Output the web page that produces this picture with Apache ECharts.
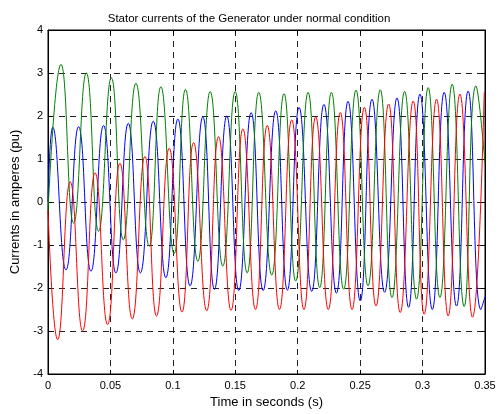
<!DOCTYPE html>
<html>
<head>
<meta charset="utf-8">
<script src="https://cdn.jsdelivr.net/npm/echarts@6/dist/echarts.min.js"></script>
<style>
html,body{margin:0;padding:0;background:#fff;}
#chart{width:500px;height:414px;}
</style>
</head>
<body>
<div id="chart"></div>
<script>
// Peaks and troughs: [time (s), current (pu)]
var bluePhase = [
  [0, 0.0], [0.0038, 1.74], [0.0144, -1.58], [0.0245, 1.75], [0.0344, -1.61], [0.0445, 1.78],
  [0.0544, -1.65], [0.0643, 1.83], [0.074, -1.65], [0.0843, 1.88], [0.0944, -1.76], [0.104, 1.93],
  [0.1138, -1.95], [0.124, 1.98], [0.1333, -2.03], [0.1432, 2.0], [0.1528, -2.06], [0.1627, 2.08],
  [0.1723, -2.06], [0.1824, 2.12], [0.1917, -2.05], [0.2011, 2.2], [0.2112, -2.08], [0.221, 2.27],
  [0.231, -2.12], [0.2403, 2.34], [0.2501, -2.3], [0.2595, 2.39], [0.2696, -2.1], [0.2795, 2.42],
  [0.2888, -2.45], [0.2979, 2.51], [0.3078, -2.5], [0.3173, 2.55], [0.3272, -2.42], [0.3365, 2.58],
  [0.3467, -2.5], [0.35, -2.2]
];
var greenPhase = [
  [0, -0.22], [0.0104, 3.2], [0.0205, -0.49], [0.0307, 3.0], [0.0405, -0.68], [0.0507, 2.89],
  [0.0603, -0.88], [0.0704, 2.76], [0.0811, -1.03], [0.0904, 2.68], [0.101, -1.2], [0.1101, 2.62],
  [0.12, -1.38], [0.1299, 2.57], [0.14, -1.49], [0.1499, 2.57], [0.1595, -1.65], [0.1688, 2.55],
  [0.1792, -1.7], [0.189, 2.52], [0.1984, -1.84], [0.2083, 2.55], [0.2176, -1.99], [0.227, 2.55],
  [0.2368, -2.03], [0.2467, 2.6], [0.2563, -1.95], [0.2661, 2.61], [0.2755, -2.22], [0.2856, 2.57],
  [0.2952, -2.26], [0.3045, 2.66], [0.3139, -2.22], [0.3237, 2.74], [0.3333, -2.43], [0.3427, 2.7],
  [0.35, 0.9]
];
var redPhase = [
  [0, -0.2], [0.0077, -3.2], [0.0178, 0.47], [0.0277, -3.0], [0.0377, 0.68], [0.0477, -2.85],
  [0.0576, 0.9], [0.0675, -2.72], [0.0776, 1.06], [0.0869, -2.65], [0.0971, 1.25], [0.1073, -2.56],
  [0.1166, 1.38], [0.1271, -2.53], [0.1366, 1.52], [0.1466, -2.52], [0.1561, 1.7], [0.1662, -2.5],
  [0.1756, 1.78], [0.1854, -2.5], [0.1952, 1.91], [0.205, -2.5], [0.2144, 1.98], [0.2245, -2.5],
  [0.2341, 2.08], [0.2435, -2.5], [0.2534, 2.2], [0.2627, -2.42], [0.2728, 2.28], [0.2821, -2.57],
  [0.2925, 2.35], [0.3013, -2.61], [0.3112, 2.39], [0.3205, -2.65], [0.3299, 2.51], [0.34, -2.68],
  [0.3494, 2.55]
];
var xTicks = { min: 0, max: 0.35, interval: 0.05 };
var yTicks = { min: -4, max: 4, interval: 1 };
var titleText = 'Stator currents of the Generator under normal condition';
var xName = 'Time in seconds (s)';
var yName = 'Currents in amperes (pu)';

var FONT = 'Liberation Sans, Arial, Helvetica, sans-serif';
var chart = echarts.init(document.getElementById('chart'), null, { renderer: 'canvas' });

function fmtX(v) {
  if (Math.abs(v) < 1e-9) return '0';
  return String(parseFloat(v.toFixed(2)));
}
var gridLine = { show: true, lineStyle: { color: '#222', type: [6, 5], width: 1 } };

function lineSeries(name, data, color) {
  return {
    name: name, type: 'line', data: data, xAxisIndex: 0, yAxisIndex: 0,
    smooth: 0.5, showSymbol: false, symbol: 'none', animation: false,
    lineStyle: { color: color, width: 1 }, z: 3
  };
}

chart.setOption({
  animation: false,
  backgroundColor: '#fff',
  title: {
    text: titleText, left: 244, top: 8, textAlign: 'center',
    textStyle: { fontFamily: FONT, fontSize: 11.5, fontWeight: 'normal', color: '#000' }
  },
  grid: { left: 48, right: 15, top: 30, bottom: 40, show: true, borderColor: '#000', borderWidth: 1, backgroundColor: 'transparent' },
  xAxis: [
    {
      type: 'value', position: 'bottom', min: xTicks.min, max: xTicks.max, interval: xTicks.interval,
      name: xName, nameLocation: 'middle', nameGap: 21,
      nameTextStyle: { fontFamily: FONT, fontSize: 13, color: '#000' },
      axisLine: { show: true, onZero: false, lineStyle: { color: '#000', width: 1 } },
      axisTick: { show: true, inside: true, length: 4, lineStyle: { color: '#000' } },
      axisLabel: { fontFamily: FONT, fontSize: 11, color: '#000', margin: 6, formatter: fmtX },
      splitLine: gridLine
    },
    {
      type: 'value', position: 'top', min: xTicks.min, max: xTicks.max, interval: xTicks.interval,
      axisLine: { show: true, onZero: false, lineStyle: { color: '#000', width: 1 } },
      axisTick: { show: true, inside: true, length: 4, lineStyle: { color: '#000' } },
      axisLabel: { show: false }, splitLine: { show: false }
    }
  ],
  yAxis: [
    {
      type: 'value', position: 'left', min: yTicks.min, max: yTicks.max, interval: yTicks.interval,
      name: yName, nameLocation: 'middle', nameGap: 22,
      nameTextStyle: { fontFamily: FONT, fontSize: 13, color: '#000' },
      axisLine: { show: true, onZero: false, lineStyle: { color: '#000', width: 1 } },
      axisTick: { show: true, inside: true, length: 4, lineStyle: { color: '#000' } },
      axisLabel: { fontFamily: FONT, fontSize: 11, color: '#000', margin: 5 },
      splitLine: gridLine
    },
    {
      type: 'value', position: 'right', min: yTicks.min, max: yTicks.max, interval: yTicks.interval,
      axisLine: { show: true, onZero: false, lineStyle: { color: '#000', width: 1 } },
      axisTick: { show: true, inside: true, length: 4, lineStyle: { color: '#000' } },
      axisLabel: { show: false }, splitLine: { show: false }
    }
  ],
  series: [
    lineSeries('Phase B', bluePhase, '#0000ff'),
    lineSeries('Phase A', greenPhase, '#008000'),
    lineSeries('Phase C', redPhase, '#ff0000')
  ]
});
</script>
</body>
</html>
